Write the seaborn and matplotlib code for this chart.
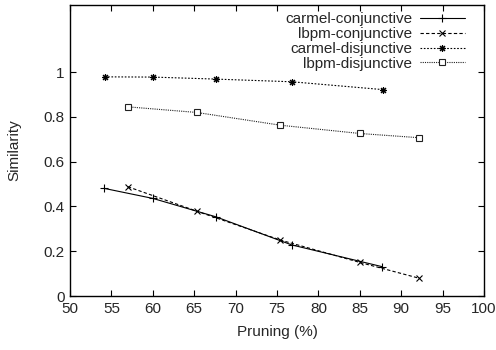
import matplotlib
matplotlib.use("Agg")
import matplotlib.pyplot as plt
import seaborn as sns
import pandas as pd

carmel_conj_x = [54.1, 60.0, 67.6, 76.8, 87.7]
carmel_conj_y = [0.481, 0.436, 0.354, 0.228, 0.131]
lbpm_conj_x = [57.0, 65.3, 75.4, 85.0, 92.2]
lbpm_conj_y = [0.488, 0.379, 0.250, 0.150, 0.079]
carmel_disj_x = [54.2, 60.0, 67.6, 76.8, 87.8]
carmel_disj_y = [0.979, 0.978, 0.969, 0.957, 0.922]
lbpm_disj_x = [57.0, 65.3, 75.4, 85.0, 92.2]
lbpm_disj_y = [0.845, 0.820, 0.763, 0.726, 0.707]

labels = ["carmel-conjunctive", "lbpm-conjunctive", "carmel-disjunctive", "lbpm-disjunctive"]
xticks = [50, 55, 60, 65, 70, 75, 80, 85, 90, 95, 100]
yticks = [0, 0.2, 0.4, 0.6, 0.8, 1]

sns.set_theme(style="ticks")
plt.rcParams['font.family'] = ['Liberation Sans', 'DejaVu Sans']

fig = plt.figure(figsize=(4.96, 3.5), dpi=100)
ax = fig.add_axes([70/496, 1-296/350, (484-70)/496, (296-5)/350])

styles = [
    dict(linestyle='-', marker='+', color='black', markersize=5.5, mew=0.8, mfc='none'),
    dict(linestyle=(0, (3, 2)), marker='x', color='black', markersize=4, mew=0.8, mfc='none'),
    dict(linestyle=(0, (1.5, 1.5)), marker=(8, 2, 0), color='black', markersize=5, mew=0.8, mfc='none'),
    dict(linestyle=(0, (1, 1)), marker='s', color='#222222', markersize=4, mew=0.8, mfc='white'),
]
data = [(carmel_conj_x, carmel_conj_y), (lbpm_conj_x, lbpm_conj_y),
        (carmel_disj_x, carmel_disj_y), (lbpm_disj_x, lbpm_disj_y)]
for (xs, ys), lab, st in zip(data, labels, styles):
    df = pd.DataFrame({"x": xs, "y": ys})
    sns.lineplot(data=df, x="x", y="y", ax=ax, label=lab, linewidth=0.8, sort=False,
                 color=st['color'], legend=False)
    ln = ax.lines[-1]
    ln.set_linestyle(st['linestyle'])
    ln.set_marker(st['marker'])
    ln.set_markersize(st['markersize'])
    ln.set_markeredgewidth(st['mew'])
    ln.set_markeredgecolor(st['color'])
    ln.set_markerfacecolor(st['mfc'])
    ln.set_label(lab)

ax.set_xlim(50, 100)
ax.set_ylim(0, 1.3)
ax.set_xticks(xticks)
ax.set_xticklabels([str(v) for v in xticks], fontsize=11)
ax.set_yticks(yticks)
ax.set_yticklabels([str(v) for v in yticks], fontsize=11)
ax.tick_params(direction='in', top=True, right=True, length=4, width=0.8, color='black', pad=4)
for s in ax.spines.values():
    s.set_visible(True)
    s.set_linewidth(1.0)
    s.set_color('black')
ax.set_xlabel("Pruning (%)", fontsize=11, labelpad=7)
ax.set_ylabel("Similarity", fontsize=11, labelpad=16)
ax.legend(handles=ax.lines[:4], labels=labels, loc='upper right', frameon=False, markerfirst=False, fontsize=11,
          labelspacing=0.05, handlelength=2.95, borderaxespad=0.0, handletextpad=0.5,
          borderpad=0.0, bbox_to_anchor=(465/496, 1 - 12.5/350), bbox_transform=fig.transFigure)

fig.savefig("out.png", dpi=100)
